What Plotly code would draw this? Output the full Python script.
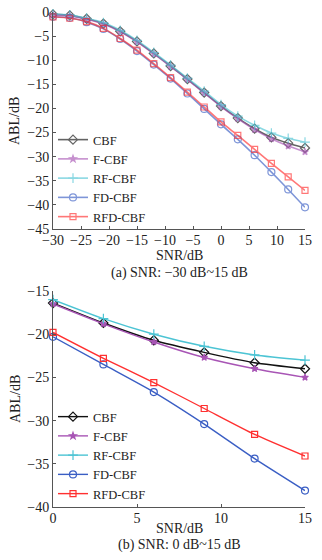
import plotly.graph_objects as go

# ---- data: panel (a) ----
snr_a = [-30, -27, -24, -21, -18, -15, -12, -9, -6, -3, 0, 3, 6, 9, 12, 15]
cbf_a = [-0.5, -0.7, -1.4, -2.4, -4.0, -6.1, -8.6, -11.2, -13.9, -16.7, -19.5, -22.0, -24.2, -26.0, -27.2, -28.2]
fcbf_a = [-0.6, -0.8, -1.5, -2.5, -4.1, -6.2, -8.7, -11.3, -14.0, -16.8, -19.6, -22.1, -24.4, -26.3, -27.8, -29.0]
rfcbf_a = [-0.4, -0.6, -1.3, -2.2, -3.8, -5.9, -8.4, -11.0, -13.7, -16.4, -19.2, -21.6, -23.5, -25.1, -26.2, -27.0]
fdcbf_a = [-1.0, -1.2, -2.1, -3.5, -5.6, -8.1, -10.9, -13.8, -16.9, -20.1, -23.3, -26.4, -29.7, -33.2, -36.8, -40.5]
rfdcbf_a = [-1.0, -1.3, -2.0, -3.4, -5.5, -7.9, -10.7, -13.6, -16.6, -19.7, -22.8, -25.6, -28.5, -31.4, -34.2, -37.0]

# ---- data: panel (b) ----
snr_b = [0, 3, 6, 9, 12, 15]
cbf_b = [-16.4, -18.7, -20.7, -22.1, -23.3, -24.0]
fcbf_b = [-16.5, -18.8, -20.9, -22.7, -24.0, -25.0]
rfcbf_b = [-16.0, -18.2, -20.0, -21.4, -22.4, -23.0]
fdcbf_b = [-20.3, -23.5, -26.7, -30.4, -34.4, -38.1]
rfdcbf_b = [-19.8, -22.8, -25.6, -28.6, -31.6, -34.1]

names = ["CBF", "F-CBF", "RF-CBF", "FD-CBF", "RFD-CBF"]
colors = ["#111111", "#a855b5", "#4cc4d4", "#3a5ec4", "#ff3030"]
symbols = ["diamond-open", "star", "cross-thin-open", "circle-open", "square-open"]
msizes = [7, 5, 7, 7, 6]

series_a = [cbf_a, fcbf_a, rfcbf_a, fdcbf_a, rfdcbf_a]
series_b = [cbf_b, fcbf_b, rfcbf_b, fdcbf_b, rfdcbf_b]

fig = go.Figure()

for i, (nm, ys) in enumerate(zip(names, series_a)):
    fig.add_trace(go.Scatter(
        x=snr_a, y=ys, name=nm, mode="lines+markers",
        line=dict(color=colors[i], width=1.6, shape="spline", smoothing=0.6),
        marker=dict(symbol=symbols[i], size=msizes[i], color=colors[i],
                    line=dict(color=colors[i], width=1.2)),
        opacity=0.65, xaxis="x", yaxis="y", legend="legend", cliponaxis=False))

for i, (nm, ys) in enumerate(zip(names, series_b)):
    fig.add_trace(go.Scatter(
        x=snr_b, y=ys, name=nm, mode="lines+markers",
        line=dict(color=colors[i], width=1.4, shape="spline", smoothing=0.6),
        marker=dict(symbol=symbols[i], size=msizes[i], color=colors[i],
                    line=dict(color=colors[i], width=1.2)),
        xaxis="x2", yaxis="y2", legend="legend2", cliponaxis=False))

font = "Liberation Serif, Times New Roman, serif"
axcommon = dict(showline=True, linecolor="#555", linewidth=1, showgrid=False,
                zeroline=False, ticks="inside", ticklen=3, tickcolor="#555",
                tickfont=dict(family=font, size=14, color="#222"),
                mirror=False, automargin=False)

legend_common = dict(font=dict(family=font, size=12.5, color="#222"),
                     bgcolor="rgba(0,0,0,0)", tracegroupgap=0,
                     itemwidth=30, xanchor="left", yanchor="top")

txt = dict(family=font, size=14, color="#222")


def py(p):
    # pixel row -> paper y (plot area spans rows 12..507)
    return (507 - p) / 495


def px(p):
    # pixel column -> paper x (plot area spans columns 53..305)
    return (p - 53) / 252


fig.update_layout(
    width=322, height=560,
    margin=dict(l=53, r=17, t=12, b=53, autoexpand=False),
    paper_bgcolor="white", plot_bgcolor="white",
    font=dict(family=font, size=14, color="#222"),
    xaxis=dict(domain=[0, 1], anchor="y", range=[-30, 15], dtick=5,
               ticklabelstandoff=-2, **axcommon),
    yaxis=dict(domain=[py(229), 1], anchor="x", range=[-45, 0], dtick=5, **axcommon),
    xaxis2=dict(domain=[0, 1], anchor="y2", range=[0, 15], dtick=5,
                ticklabelstandoff=-2, **axcommon),
    yaxis2=dict(domain=[0, py(291)], anchor="x2", range=[-40, -15], dtick=5, **axcommon),
    legend=dict(x=px(53), y=py(125), **legend_common),
    legend2=dict(x=px(53), y=py(402), **legend_common),
    showlegend=True,
    annotations=[
        dict(text="SNR/dB", xref="paper", yref="paper", x=0.5, y=py(256),
             yanchor="middle", showarrow=False, font=txt),
        dict(text="(a) SNR: −30 dB~15 dB", xref="paper", yref="paper",
             x=0.5, y=py(273), yanchor="middle", showarrow=False, font=txt),
        dict(text="ABL/dB", xref="paper", yref="paper", x=px(15), y=py(121),
             xanchor="center", yanchor="middle", textangle=-90, showarrow=False, font=txt),
        dict(text="SNR/dB", xref="paper", yref="paper", x=0.5, y=py(528),
             yanchor="middle", showarrow=False, font=txt),
        dict(text="(b) SNR: 0 dB~15 dB", xref="paper", yref="paper",
             x=0.5, y=py(545), yanchor="middle", showarrow=False, font=txt),
        dict(text="ABL/dB", xref="paper", yref="paper", x=px(15), y=py(399),
             xanchor="center", yanchor="middle", textangle=-90, showarrow=False, font=txt),
    ],
)

fig.write_html("out.html", post_script="document.body.style.margin='0';",
               config={"displayModeBar": False})
